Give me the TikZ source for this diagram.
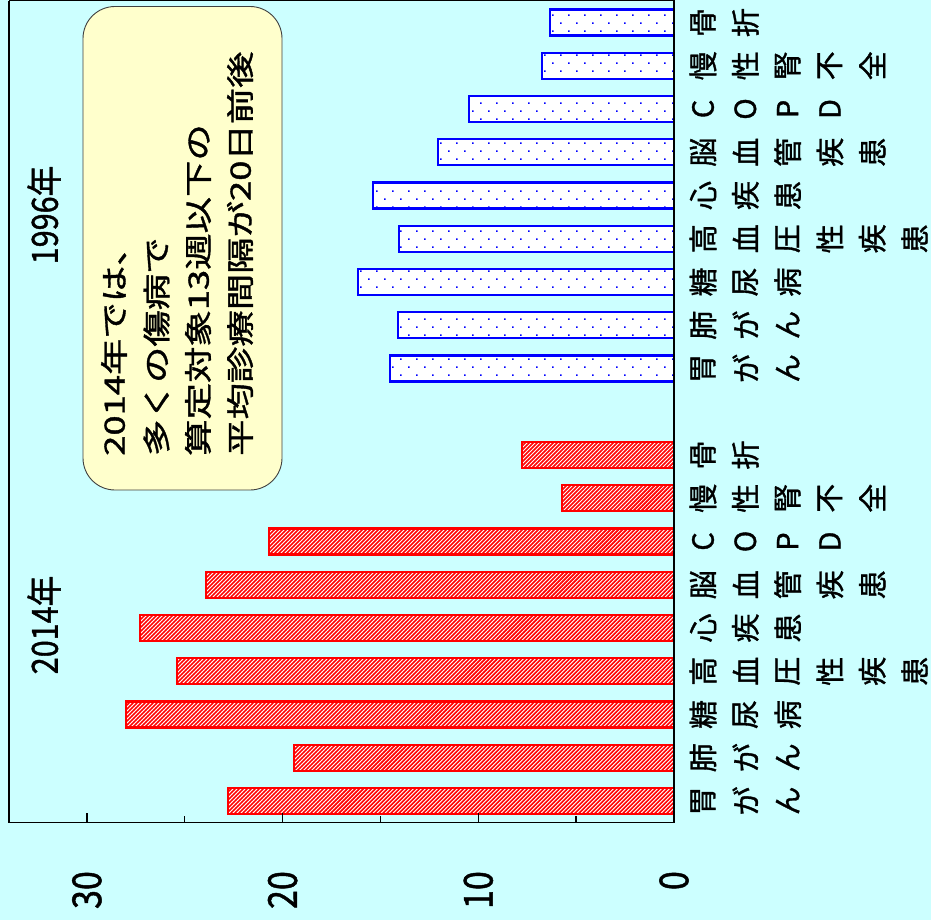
\documentclass[tikz,border=0pt]{standalone}
\usepackage{fontspec}
\usepackage{graphicx}
\newfontfamily\jp[FakeBold=1.2,AutoFakeBold=1.2]{Noto Sans CJK JP}
\usetikzlibrary{patterns,patterns.meta}
\definecolor{bgcyan}{HTML}{CCFFFF}
\definecolor{notefill}{HTML}{FFFFCC}
\pgfdeclarepatternformonly{bluedots}{\pgfqpoint{-1pt}{-1pt}}{\pgfqpoint{17pt}{17pt}}{\pgfqpoint{16pt}{16pt}}{%
  \pgfpathrectangle{\pgfqpoint{0pt}{0pt}}{\pgfqpoint{1.7pt}{1.7pt}}%
  \pgfpathrectangle{\pgfqpoint{8pt}{8pt}}{\pgfqpoint{1.7pt}{1.7pt}}%
  \pgfusepath{fill}}
\begin{document}
\begin{tikzpicture}[x=1pt,y=-1pt,
  redbar/.style={draw=red, line width=2.2pt, fill=white,
    postaction={pattern={Lines[angle=45,distance=2.83pt,line width=1.6pt]}, pattern color=red}},
  bluebar/.style={draw=blue, line width=2.2pt, fill=white,
    postaction={pattern=bluedots, pattern color=blue}},
  catlabel/.style={rotate=90, inner sep=0pt, font=\jp\bfseries\fontsize{29}{29}\selectfont},
  notetext/.style={rotate=90, inner sep=0pt, anchor=west, font=\jp\bfseries\fontsize{28}{28}\selectfont},
  yearlabel/.style={rotate=90, inner sep=0pt, font=\jp\bfseries\fontsize{36}{36}\selectfont},
  axislabel/.style={rotate=90, inner sep=0pt, anchor=east, font=\jp\bfseries\fontsize{40}{40}\selectfont},
  frameline/.style={line width=1.4pt, black}]
\useasboundingbox (0,0) rectangle (931,920);
\fill[bgcyan] (0,0) rectangle (931,920);

% note box
\draw[fill=notefill, draw=black!75, line width=0.9pt, rounded corners=32pt] (83,6.5) rectangle (282,490);
\node[notetext] (n1) at (114,456) {\scalebox{1.3}[1]{2014年では、}};
\node[notetext] (n2) at (156.5,456) {\scalebox{1.3}[1]{多くの傷病で}};
\node[notetext] (n3) at (198,456) {\scalebox{1.3}[1]{算定対象13週以下の}};
\node[notetext] (n4) at (240,456) {\scalebox{1.3}[1]{平均診療間隔が20日前後}};

% 2014 bars
\foreach \xl [count=\k from 0] in {228,294,126,177,140,206,269,562,522}
  \draw[redbar] (\xl,{801-43.25*\k-13}) rectangle (674,{801-43.25*\k+13});
% 1996 bars
\foreach \xl [count=\k from 10] in {390,398,358,399,373,438,469,542,550}
  \draw[bluebar] (\xl,{801-43.25*\k-13}) rectangle (674,{801-43.25*\k+13});

% frame and axis
\draw[frameline] (9,0.8) -- (674,0.8);
\draw[frameline] (9,0.8) -- (9,822.7) -- (674,822.7) -- (674,0);
\foreach \v in {10,20,30}
  \draw[frameline] ({674-19.57*\v},822.7) -- ({674-19.57*\v},812.5);
\foreach \v in {5,15,25}
  \draw[frameline] ({674-19.57*\v},822.7) -- ({674-19.57*\v},815.5);

% axis labels
\foreach \v/\nm in {0/a0,10/a10,20/a20,30/a30}
  \node[axislabel] (\nm) at ({674-19.57*\v},871) {\scalebox{0.85}[1]{\v}};

% year labels
\node[yearlabel] (y2014) at (44,625) {\scalebox{0.85}[1]{2014年}};
\node[yearlabel] (y1996) at (44,215) {\scalebox{0.85}[1]{1996年}};

% category labels
\foreach \g/\off in {a/0,b/10}{
  \foreach \lab [count=\k from 0] in {{胃,が,ん},{肺,が,ん},{糖,尿,病},{高,血,圧,性,疾,患},{心,疾,患},{脳,血,管,疾,患},{C,O,P,D},{慢,性,腎,不,全},{骨,折}}{
    \foreach \ch [count=\j from 0] in \lab
      \node[catlabel] (c\g\k\j) at ({703+42.3*\j},{801-43.25*(\k+\off)}) {\ch};
  }
}
\end{tikzpicture}
\end{document}
